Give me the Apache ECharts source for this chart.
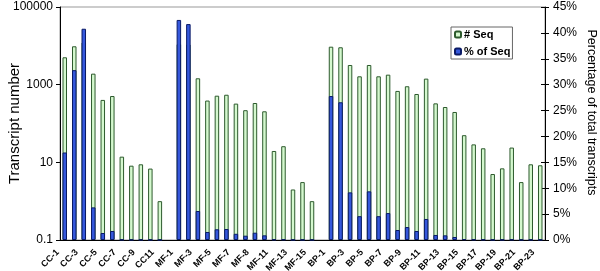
<!DOCTYPE html>
<html><head><meta charset="utf-8">
<script src="https://cdn.jsdelivr.net/npm/echarts@6/dist/echarts.min.js"></script>
<style>html,body{margin:0;padding:0;background:#fff}#c{width:600px;height:271px}</style>
</head><body><div id="c"></div>
<script>
const categories = [
  'CC-1','CC-2','CC-3','CC-4','CC-5','CC-6','CC-7','CC-8','CC-9','CC-10','CC11',
  '',
  'MF-1','MF-2','MF-3','MF-4','MF-5','MF-6','MF-7','MF-8','MF-8','MF-10','MF-11','MF-12','MF-13','MF-14','MF-15',
  '',
  'BP-1','BP-2','BP-3','BP-4','BP-5','BP-6','BP-7','BP-8','BP-9','BP-10','BP-11','BP-12','BP-13','BP-14','BP-15','BP-16','BP-17','BP-18','BP-19','BP-20','BP-21','BP-22','BP-23'
];
const seqCounts = [
  5070, 9730, 12200, 1920, 405, 510, 14, 8.2, 8.9, 6.9, 1.0,
  null,
  11000, 10800, 1460, 390, 520, 550, 325, 220, 337, 206, 19.6, 26, 2.0, 3.1, 1.0,
  null,
  9500, 9180, 3210, 1640, 3210, 1640, 1810, 690, 910, 575, 1430, 330, 266, 198, 50, 29, 23, 5.0, 7.0, 24, 3.1, 8.9, 8.4
];
const seqPercent = [
  16.9, 32.8, 40.8, 6.3, 1.35, 1.74, 0.05, 0.03, 0.03, 0.02, 0.003,
  null,
  42.5, 41.7, 5.6, 1.55, 2.07, 2.12, 1.2, 0.83, 1.41, 0.9, 0.08, 0.1, 0.01, 0.01, 0.004,
  null,
  27.8, 26.6, 9.2, 4.6, 9.4, 4.6, 5.2, 1.93, 2.5, 1.74, 4.06, 0.97, 0.9, 0.58, 0.15, 0.08, 0.07, 0.01, 0.02, 0.07, 0.01, 0.03, 0.02
];
const leftTickLabels = ['0.1', '10', '1000', '100000'];
const seriesNames = ['# Seq', '% of Seq'];

const chart = echarts.init(document.getElementById('c'), null, {renderer: 'canvas'});
const font = 'Liberation Sans, Arial, Helvetica, sans-serif';
chart.setOption({
  animation: false,
  textStyle: {fontFamily: font},
  grid: {left: 60, right: 55, top: 7, bottom: 31, containLabel: false, outerBoundsMode: 'none',
         show: true, borderColor: '#999', borderWidth: 1},
  legend: {
    data: seriesNames,
    orient: 'vertical',
    left: 451, top: 27,
    padding: [1, 2, 1, 3],
    itemWidth: 6, itemHeight: 6, itemGap: 4,
    borderColor: '#666', borderWidth: 1,
    textStyle: {fontSize: 11, fontWeight: 'bold', color: '#000', lineHeight: 13, fontFamily: font, padding: [0, 0, 0, -2]}
  },
  xAxis: {
    type: 'category', data: categories, boundaryGap: true,
    axisLine: {lineStyle: {color: '#000', width: 1}},
    axisTick: {interval: 0, length: 4, lineStyle: {color: '#000'}},
    axisLabel: {interval: 1, rotate: 45, fontSize: 9, fontWeight: 'bold', color: '#000', margin: 4,
                padding: [0, 10, 0, 0]}
  },
  yAxis: [
    {
      type: 'value', position: 'left', min: 0, max: 6, interval: 2,
      name: 'Transcript number', nameLocation: 'middle', nameGap: 38, nameMoveOverlap: false,
      nameTextStyle: {fontSize: 15, color: '#000'},
      axisLine: {show: true, lineStyle: {color: '#000'}},
      axisTick: {show: true, length: 4, lineStyle: {color: '#000'}},
      axisLabel: {fontSize: 12, color: '#000', margin: 7, formatter: v => leftTickLabels[v / 2]},
      splitLine: {show: false}
    },
    {
      type: 'log', logBase: 10, position: 'left', min: 0.1, max: 100000, startValue: 0.1,
      show: false, splitLine: {show: false}
    },
    {
      type: 'value', position: 'right', min: 0, max: 45, interval: 5,
      name: 'Percentage of total transcripts', nameLocation: 'middle', nameGap: 40, nameRotate: -90,
      nameMoveOverlap: false,
      nameTextStyle: {fontSize: 12.5, color: '#000', padding: [0, 22, 0, 0]},
      axisLine: {show: true, lineStyle: {color: '#000'}},
      axisTick: {show: true, length: 4, lineStyle: {color: '#000'}},
      axisLabel: {fontSize: 12, color: '#000', margin: 8, formatter: '{value}%'},
      splitLine: {show: false}
    },
    {
      type: 'value', position: 'right', min: 0, max: 45, interval: 5,
      axisLine: {show: false},
      axisTick: {show: true, inside: true, length: 4, lineStyle: {color: '#000'}},
      axisLabel: {show: false}, splitLine: {show: false}
    }
  ],
  series: [
    {
      name: seriesNames[0], type: 'bar', yAxisIndex: 1, data: seqCounts,
      barWidth: 4.5, barGap: '-100%',
      itemStyle: {color: '#d4f8ce', borderColor: '#2d5a2d', borderWidth: 1}
    },
    {
      name: seriesNames[1], type: 'bar', yAxisIndex: 2, data: seqPercent,
      barWidth: 4.5, barGap: '-100%',
      itemStyle: {color: '#3558dc', borderColor: '#0a1a66', borderWidth: 1}
    }
  ]
});
</script></body></html>
